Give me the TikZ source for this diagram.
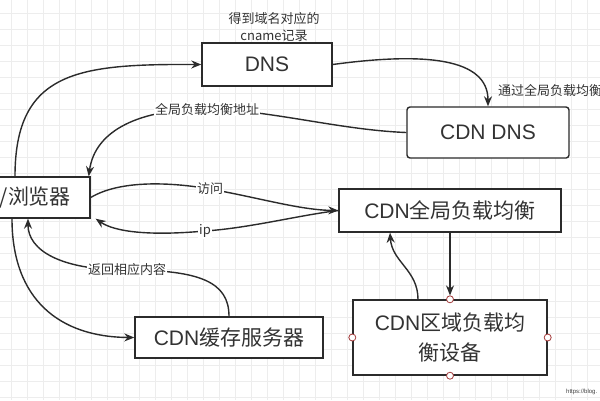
\documentclass[tikz,border=0pt]{standalone}
\usepackage{fontspec}
\setmainfont{Liberation Sans}
\newfontfamily\cjk{Noto Sans CJK SC}
\usepackage{xcolor}
\usetikzlibrary{arrows.meta}
\definecolor{linegray}{HTML}{2B2B2B}
\definecolor{textgray}{HTML}{333333}
\definecolor{gridgray}{HTML}{EDEDED}
\definecolor{handlered}{HTML}{A33A3A}

\begin{document}
\begin{tikzpicture}[x=1pt,y=-1pt,
box/.style={draw=linegray,line width=1.4pt,fill=white,text=textgray,font=\fontsize{21}{30}\selectfont,inner sep=0pt},
lab/.style={text=textgray,font=\cjk\fontsize{13}{17}\selectfont,fill=white,inner sep=1pt},
link/.style={draw=linegray,line width=1.4pt,-{Stealth[length=10pt,width=8pt]}},
handle/.style={circle,draw=handlered,fill=white,line width=0.8pt,minimum size=7pt,inner sep=0pt}]
\useasboundingbox (0,0) rectangle (600,400);
\clip (0,0) rectangle (600,400);
\fill[white] (0,0) rectangle (600,400);
\foreach \gx in {11,27,...,600} \draw[gridgray,line width=0.9pt] (\gx,0) -- (\gx,400);
\foreach \gy in {13,29,...,400} \draw[gridgray,line width=0.9pt] (0,\gy) -- (600,\gy);

\node (browser) at (15,197.5) [box,minimum height=41pt,text width=112pt,inner xsep=19pt,align=right]{{\cjk /浏览器}};
\node (dns) at (267,64.5) [box,minimum width=130pt,minimum height=43pt]{DNS};
\node (cdndns) at (488,132.5) [box,rounded corners=3pt,minimum width=162pt,minimum height=51pt]{CDN DNS};
\node (gslb) at (450,210.5) [box,minimum width=222pt,minimum height=43pt]{CDN{\cjk 全局负载均衡}};
\node (cache) at (229,337.5) [box,minimum width=188pt,minimum height=41pt]{CDN{\cjk 缓存服务器}};
\node (slb) at (450,337.5) [box,minimum width=194pt,minimum height=75pt,align=center]{CDN{\cjk 区域负载均}\\{\cjk 衡设备}};
\foreach \a in {north,south,east,west}
  \node (h\a) at (slb.\a) [handle]{};

\node (dnsnote) at (274,27) [lab,fill=none,align=center]{得到域名对应的\\cname记录};
\node (cnamenote) at (497,90) [lab,fill=none,anchor=west]{通过全局负载均衡};

\draw[link] (browser.north) .. controls (15,70) and (80,64) .. (dns.west);
\draw[link] (dns.east) .. controls (425,52) and (488,58) .. (cdndns.north);
\draw[link] (cdndns.west) .. controls (340,130) and (270,110) .. (207,109) node[lab] (addr){全局负载均衡地址}
  .. controls (140,109) and (95,130) .. ([xshift=-2pt]browser.north east);
\draw[link] (browser.east) .. controls (120,180) and (170,182) .. (210,189) node[lab] (visit){访问}
  .. controls (260,198) and (300,210) .. (gslb.west);
\draw[link] (gslb.west) .. controls (300,215) and (250,228) .. (205,231) node[lab] (ip){ip}
  .. controls (150,236) and (115,232) .. ([xshift=5pt]browser.south east);
\draw[link] (cache.north) .. controls (229,282) and (200,270) .. (127,270) node[lab] (back){返回相应内容}
  .. controls (60,270) and (28,250) .. ([xshift=13pt]browser.south);
\draw[link] ([xshift=-3pt]browser.south) .. controls (12,300) and (60,337) .. (cache.west);
\draw[link] (gslb.south) -- (hnorth);
\draw[link] ([xshift=-32pt]slb.north) .. controls (418,270) and (392,262) .. ([xshift=-60pt]gslb.south);
%\draw[red] (slb.north west) rectangle (slb.south east);

\node (mark) at (566,392) [anchor=west,text=black!75,font=\fontsize{6}{7}\selectfont,inner sep=0pt]{https://blog.};
\end{tikzpicture}
\end{document}
